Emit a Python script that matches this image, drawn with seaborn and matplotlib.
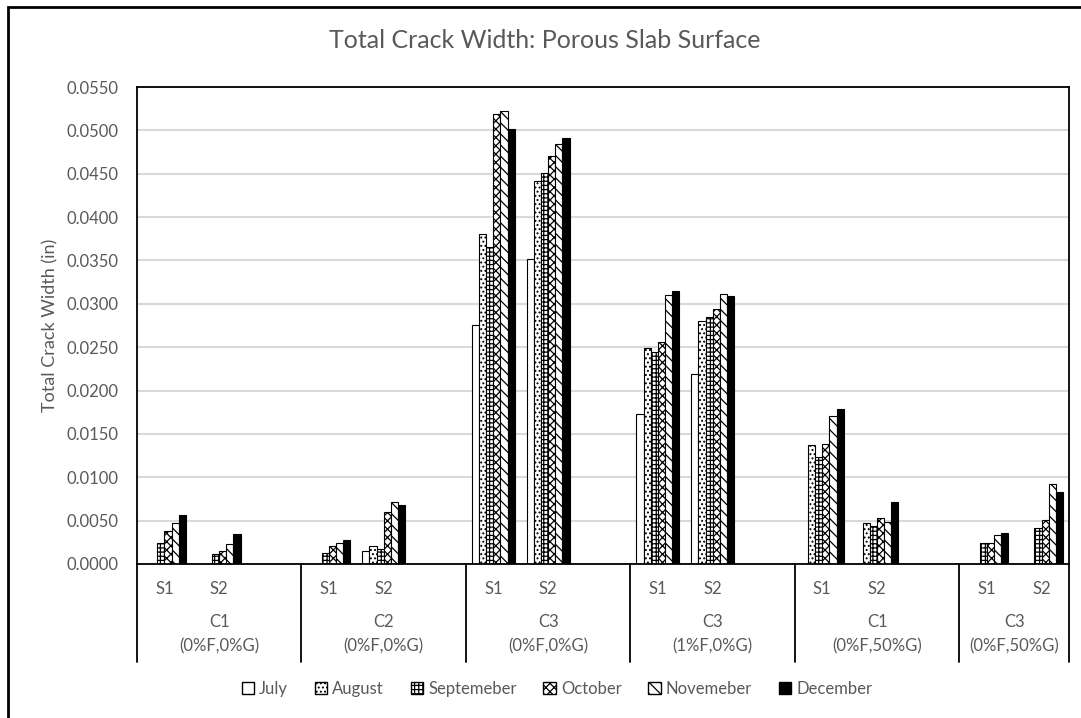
import numpy as np
import pandas as pd
import matplotlib.pyplot as plt
import matplotlib.patches as mpatches
import matplotlib.transforms as mtransforms
import seaborn as sns

sns.set_theme(style="white")
plt.rcParams["font.family"] = ["Lato", "DejaVu Sans"]
plt.rcParams["hatch.linewidth"] = 0.9

GREY = "#595959"
nan = np.nan

# ---------------------------
# DATA (in)
# ---------------------------
months = ["July", "August", "Septemeber", "October", "Novemeber", "December"]
groups = ["C1", "C2", "C3", "C3", "C1", "C3"]
mixes = ["(0%F,0%G)", "(0%F,0%G)", "(0%F,0%G)", "(1%F,0%G)", "(0%F,50%G)", "(0%F,50%G)"]
slabs = ["S1", "S2"]

c1_s1 = [nan, nan, 0.0024, 0.0038, 0.0047, 0.0057]
c1_s2 = [nan, nan, 0.0012, 0.0015, 0.0023, 0.0035]
c2_s1 = [nan, nan, 0.0013, 0.0021, 0.0024, 0.0028]
c2_s2 = [0.0015, 0.0021, 0.0017, 0.0060, 0.0071, 0.0068]
c3_s1 = [0.0276, 0.0381, 0.0365, 0.0519, 0.0522, 0.0501]
c3_s2 = [0.0352, 0.0442, 0.0451, 0.0470, 0.0484, 0.0491]
c3f_s1 = [0.0173, 0.0249, 0.0244, 0.0256, 0.0310, 0.0315]
c3f_s2 = [0.0219, 0.0280, 0.0285, 0.0294, 0.0311, 0.0309]
c1g_s1 = [nan, 0.0137, 0.0123, 0.0138, 0.0171, 0.0179]
c1g_s2 = [nan, 0.0047, 0.0044, 0.0053, 0.0049, 0.0071]
c3g_s1 = [nan, nan, 0.0024, 0.0024, 0.0033, 0.0036]
c3g_s2 = [nan, nan, 0.0041, 0.0051, 0.0092, 0.0083]

series = [
    (c1_s1, c1_s2), (c2_s1, c2_s2), (c3_s1, c3_s2),
    (c3f_s1, c3f_s2), (c1g_s1, c1g_s2), (c3g_s1, c3g_s2),
]

# ---------------------------
# long table + slot order (empty slot after each group but the last)
# ---------------------------
rows = []
order = []
for gi, pair in enumerate(series):
    for slab, vals in zip(slabs, pair):
        slot = f"g{gi}-{slab}"
        order.append(slot)
        for m, v in zip(months, vals):
            if not np.isnan(v):
                rows.append({"slot": slot, "month": m, "width": v})
    if gi < len(series) - 1:
        order.append(f"g{gi}-blank")
df = pd.DataFrame(rows)

faces = {m: "white" for m in months}
faces["December"] = "black"
hatches = {"July": "", "August": "....", "Septemeber": "++++",
           "October": "xxxx", "Novemeber": "\\\\\\", "December": ""}

fig = plt.figure(figsize=(10.81, 7.18), dpi=100)
ax = fig.add_axes([137 / 1081, 1 - 564 / 718, 932 / 1081, 477 / 718])

sns.barplot(data=df, x="slot", y="width", hue="month", order=order,
            hue_order=months, palette=faces, edgecolor="black",
            linewidth=0.8, width=0.78, errorbar=None, legend=False, ax=ax)

# hatch each bar by its dodge position
nh = len(months)
bw = 0.78 / nh
for bar in ax.patches:
    cx = bar.get_x() + bar.get_width() / 2
    k = int(round((cx - round(cx) + 0.39) / bw - 0.5))
    bar.set_hatch(hatches[months[k]])

ax.set_xlim(-0.5, len(order) - 0.5)
ax.set_ylim(0, 0.055)
ax.set_yticks(np.arange(0, 0.0551, 0.005))
ax.set_yticklabels([f"{t:.4f}" for t in np.arange(0, 0.0551, 0.005)])
ax.yaxis.grid(True, color="#d9d9d9", linewidth=1.5)
ax.set_axisbelow(True)
ax.tick_params(axis="y", length=0, pad=13, labelsize=12, labelcolor=GREY)

ax.set_xticks(range(len(order)))
ax.set_xticklabels([s.split("-")[1] if "blank" not in s else "" for s in order])
ax.tick_params(axis="x", length=0, pad=12, labelsize=12, labelcolor=GREY)
ax.set_xlabel("")
ax.set_ylabel("Total Crack Width (in)", fontsize=13, color=GREY, labelpad=6)

for sp in ax.spines.values():
    sp.set_color("black")
    sp.set_linewidth(1.3)

# category box below the axis
trans = mtransforms.blended_transform_factory(ax.transData, ax.transAxes)
low = -(662 - 564) / 477
bounds = [-0.5, 2.5, 5.5, 8.5, 11.5, 14.5, len(order) - 0.5]
for b in bounds:
    ax.plot([b, b], [0, low], color="black", lw=1.3, transform=trans, clip_on=False)
for gi in range(len(groups)):
    cx = (bounds[gi] + bounds[gi + 1]) / 2
    ax.text(cx, -(622 - 564) / 477, groups[gi], transform=trans, ha="center",
            va="center", fontsize=12, color=GREY)
    ax.text(cx, -(646 - 564) / 477, mixes[gi], transform=trans, ha="center",
            va="center", fontsize=12, color=GREY)

fig.text(545 / 1081, 1 - 40 / 718, "Total Crack Width: Porous Slab Surface",
         ha="center", va="center", fontsize=18, color=GREY)

handles = [mpatches.Patch(facecolor=faces[m], edgecolor="black", hatch=hatches[m],
                          linewidth=1, label=m) for m in months]
fig.legend(handles=handles, loc="center", bbox_to_anchor=(557 / 1081, 1 - 689 / 718),
           ncol=6, frameon=False, fontsize=12, handlelength=0.75, handleheight=0.75,
           handletextpad=0.3, columnspacing=1.6, labelcolor=GREY)

fig.patches.append(mpatches.Rectangle((8 / 1081, -0.5), 2, 1.5 - 7 / 718,
                                      transform=fig.transFigure, fill=False,
                                      edgecolor="black", linewidth=2))

fig.savefig("out.png", dpi=100)
